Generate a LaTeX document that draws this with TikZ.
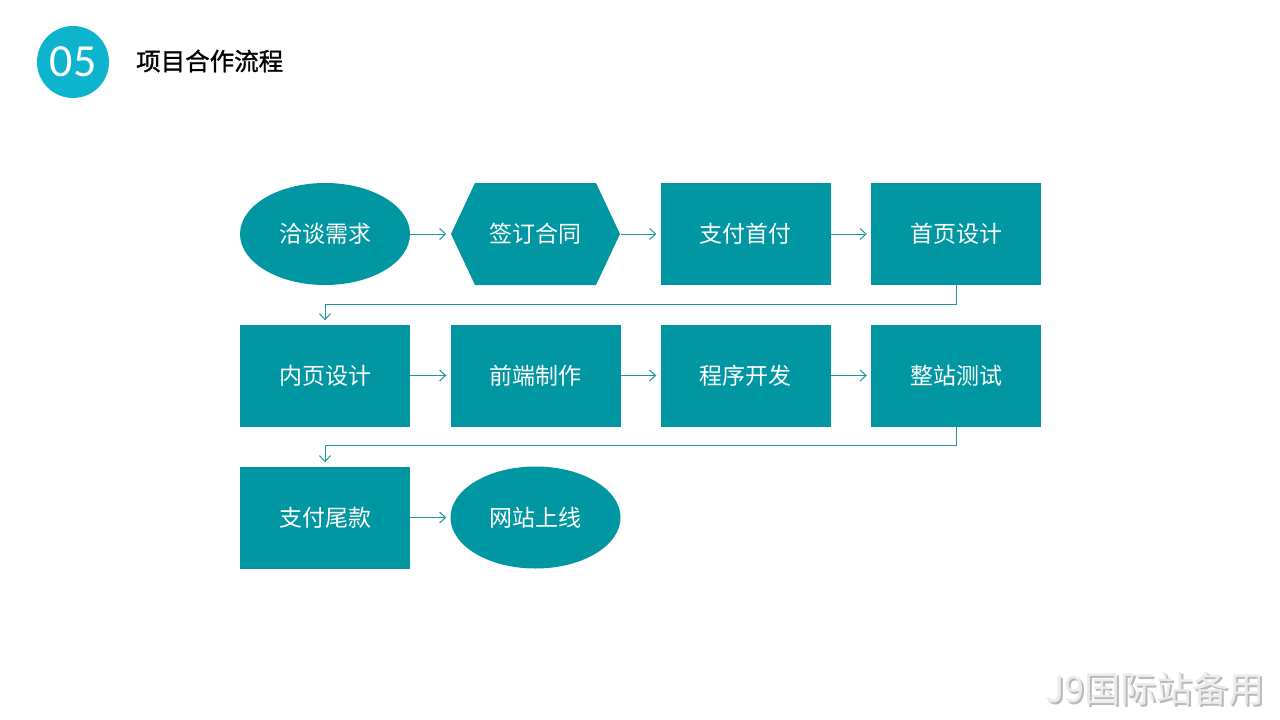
\documentclass[tikz,border=0pt]{standalone}
\usepackage{fontspec}
\setmainfont{Carlito}
\newfontfamily\cjk{Noto Sans CJK SC}
\newfontfamily\cjkb[FakeBold=1.2]{Noto Sans CJK SC}
\usetikzlibrary{shapes.geometric,arrows.meta,calc}
\definecolor{teal1}{RGB}{0,150,162}
\definecolor{cyan1}{RGB}{12,180,206}
\definecolor{line1}{RGB}{30,150,160}
\tikzset{
  boxnode/.style={rectangle,fill=teal1,minimum width=170pt,minimum height=102pt,inner sep=0pt,text=white,font=\cjk\fontsize{23}{26}\selectfont},
  ellnode/.style={ellipse,fill=teal1,minimum width=170pt,minimum height=102pt,inner sep=0pt,text=white,font=\cjk\fontsize{23}{26}\selectfont},
  hexnode/.style={rectangle,minimum width=170pt,minimum height=102pt,inner sep=0pt,text=white,font=\cjk\fontsize{23}{26}\selectfont},
  arr/.style={draw=line1,line width=1pt,-{Straight Barb[length=6pt,width=11pt]},shorten >=4pt}
}
\begin{document}
\begin{tikzpicture}[x=1pt,y=-1pt]
\useasboundingbox[fill=white] (0,0) rectangle (1280,720);
% header
\node[circle,fill=cyan1,minimum size=72pt,inner sep=0pt,text=white,font=\fontsize{46}{50}\selectfont] (num) at (73,62) {05};
\node[anchor=west,font=\cjkb\fontsize{24.5}{28}\selectfont,inner sep=0pt] (title) at (136,61) {项目合作流程};
% row 1
\node[ellnode] (n1) at (325,234) {洽谈需求};
\fill[teal1] (451,234) -- (475,183) -- (596,183) -- (620,234) -- (596,285) -- (475,285) -- cycle;
\node[hexnode] (n2) at (535.5,234) {签订合同};
\node[boxnode] (n3) at (745.5,234) {支付首付};
\node[boxnode] (n4) at (956,234) {首页设计};
% row 2
\node[boxnode] (n5) at (325,375.5) {内页设计};
\node[boxnode] (n6) at (535.5,375.5) {前端制作};
\node[boxnode] (n7) at (745.5,375.5) {程序开发};
\node[boxnode] (n8) at (956,375.5) {整站测试};
% row 3
\node[boxnode] (n9) at (325,517.5) {支付尾款};
\node[ellnode] (n10) at (535.5,517.5) {网站上线};
% connectors
\draw[arr] (n1.east) -- (n2.west);
\draw[arr] (n2.east) -- (n3.west);
\draw[arr] (n3.east) -- (n4.west);
\draw[arr] (n4.south) -- ++(0,19) -| (n5.north);
\draw[arr] (n5.east) -- (n6.west);
\draw[arr] (n6.east) -- (n7.west);
\draw[arr] (n7.east) -- (n8.west);
\draw[arr] (n8.south) -- ++(0,19) -| (n9.north);
\draw[arr] (n9.east) -- (n10.west);
% watermark
\node[anchor=east,font=\cjk\fontsize{36}{40}\selectfont,text=gray!55,inner sep=0pt] at (1266.5,690.5) {J9国际站备用};
\node[anchor=east,font=\cjk\fontsize{36}{40}\selectfont,text=gray!15,inner sep=0pt] (wm) at (1265,689) {J9国际站备用};
\end{tikzpicture}
\end{document}
